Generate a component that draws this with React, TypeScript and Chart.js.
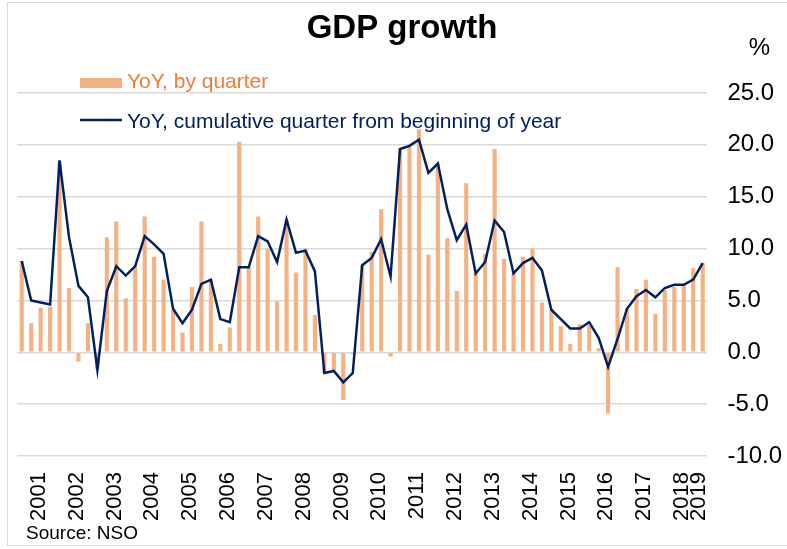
import React, { useEffect, useRef } from "react";
import { Chart, registerables } from "chart.js";

Chart.register(...registerables);

const years = ["2001","2002","2003","2004","2005","2006","2007","2008","2009","2010","2011","2012","2013","2014","2015","2016","2017","2018","2019"];
const quarterNames = ["Q1", "Q2", "Q3", "Q4"];
const quarterLabels = years.flatMap((y) => quarterNames.map((q) => `${y} ${q}`)).slice(0, 73);

const yoyByQuarter = [
  8.8, 2.8, 4.3, 4.4, 18.4, 6.2, -0.9, 2.8, -1.6, 11.1,
  12.6, 5.2, 8.3, 13.1, 9.2, 7.0, 4.1, 1.9, 6.3, 12.6,
  7.0, 0.8, 2.4, 20.3, 8.2, 13.1, 10.0, 4.9, 12.8, 7.7,
  10.0, 3.6, -2.0, -1.7, -4.6, -0.2, 8.4, 9.7, 13.8, -0.4,
  19.6, 19.8, 21.5, 9.4, 18.2, 11.0, 5.9, 16.3, 7.6, 9.5,
  19.6, 9.0, 7.6, 9.2, 10.0, 4.8, 4.1, 2.5, 0.8, 2.7,
  2.6, 0.4, -5.9, 8.2, 4.2, 6.1, 7.0, 3.7, 6.0, 6.3,
  6.5, 8.1, 8.6,
];

const yoyCumulative = [
  8.8, 5.0, 4.8, 4.6, 18.5, 11.1, 6.4, 5.3, -1.7, 5.9,
  8.3, 7.4, 8.3, 11.2, 10.4, 9.5, 4.2, 2.8, 4.1, 6.6,
  7.0, 3.2, 2.9, 8.2, 8.2, 11.2, 10.7, 8.7, 12.8, 9.6,
  9.8, 7.8, -2.0, -1.8, -2.9, -2.0, 8.4, 9.1, 10.9, 7.3,
  19.6, 19.9, 20.5, 17.3, 18.2, 13.8, 10.8, 12.3, 7.6, 8.7,
  12.7, 11.6, 7.6, 8.6, 9.1, 7.9, 4.1, 3.2, 2.3, 2.3,
  2.9, 1.4, -1.4, 1.3, 4.2, 5.4, 6.0, 5.3, 6.2, 6.5,
  6.5, 7.0, 8.6,
];

const yTicks = [-10, -5, 0, 5, 10, 15, 20, 25];

const TITLE = "GDP growth";
const SERIES_BAR = "YoY, by quarter";
const SERIES_LINE = "YoY, cumulative quarter from beginning of year";
const UNIT = "%";
const SOURCE = "Source: NSO";

const BAR_COLOR = "#F4B183";
const BAR_TEXT = "#ED7D31";
const LINE_COLOR = "#002060";
const FONT = "'Liberation Sans', Arial, sans-serif";

export default function App() {
  const ref = useRef<HTMLCanvasElement | null>(null);

  useEffect(() => {
    if (!ref.current) return;

    const decor = {
      id: "decor",
      afterDraw(chart: any) {
        const ctx = chart.ctx;
        const area = chart.chartArea;
        const xs = chart.scales.x;
        ctx.save();
        // title
        ctx.fillStyle = "#000";
        ctx.font = `bold 33px ${FONT}`;
        ctx.textAlign = "center";
        ctx.textBaseline = "alphabetic";
        ctx.fillText(TITLE, 402, 38);
        // unit
        ctx.font = `24px ${FONT}`;
        ctx.fillText(UNIT, area.right + 52, 55);
        // legend
        ctx.textAlign = "left";
        ctx.font = `21px ${FONT}`;
        ctx.fillStyle = BAR_COLOR;
        ctx.fillRect(80, 78, 42, 10);
        ctx.fillStyle = BAR_TEXT;
        ctx.fillText(SERIES_BAR, 127, 88);
        ctx.strokeStyle = LINE_COLOR;
        ctx.lineWidth = 2.5;
        ctx.beginPath();
        ctx.moveTo(80, 120);
        ctx.lineTo(122, 120);
        ctx.stroke();
        ctx.fillStyle = LINE_COLOR;
        ctx.fillText(SERIES_LINE, 127, 128);
        // year labels (centred under each year's quarters)
        ctx.fillStyle = "#000";
        ctx.font = `22px ${FONT}`;
        ctx.textAlign = "right";
        ctx.textBaseline = "middle";
        years.forEach((y) => {
          const idx = quarterLabels
            .map((l, i) => (l.startsWith(y) ? i : -1))
            .filter((i) => i >= 0);
          if (!idx.length) return;
          const c = (xs.getPixelForValue(idx[0]) + xs.getPixelForValue(idx[idx.length - 1])) / 2;
          const px = Math.min(c + 3, area.right - 8);
          ctx.save();
          ctx.translate(px, area.bottom + 16);
          ctx.rotate(-Math.PI / 2);
          ctx.fillText(y, 0, 0);
          ctx.restore();
        });
        // source
        ctx.textAlign = "left";
        ctx.textBaseline = "alphabetic";
        ctx.font = `19px ${FONT}`;
        ctx.fillText(SOURCE, 26, 539);
        ctx.restore();
      },
    };

    const chart = new Chart(ref.current, {
      type: "bar",
      data: {
        labels: quarterLabels,
        datasets: [
          {
            type: "line",
            label: SERIES_LINE,
            data: yoyCumulative,
            borderColor: LINE_COLOR,
            borderWidth: 2.5,
            pointRadius: 0,
            tension: 0,
            order: 0,
          } as any,
          {
            type: "bar",
            label: SERIES_BAR,
            data: yoyByQuarter,
            backgroundColor: BAR_COLOR,
            borderWidth: 0,
            categoryPercentage: 1,
            barPercentage: 0.44,
            order: 1,
          },
        ],
      },
      options: {
        animation: false,
        responsive: false,
        maintainAspectRatio: false,
        layout: { padding: { left: 17, top: 93, right: 0, bottom: 93 } },
        plugins: {
          legend: { display: false },
          title: { display: false },
          tooltip: { enabled: false },
        },
        scales: {
          x: {
            type: "category",
            display: false,
            offset: true,
            grid: { display: false },
          },
          y: {
            type: "linear",
            position: "right",
            min: -10,
            max: 25,
            afterBuildTicks: (scale: any) => {
              scale.ticks = yTicks.map((v) => ({ value: v }));
            },
            afterFit: (scale: any) => {
              scale.width = 787 - 707.4;
            },
            grid: { color: "#D9D9D9", lineWidth: 1.5, drawTicks: false },
            border: { display: false },
            ticks: {
              padding: 20,
              color: "#000",
              font: { family: FONT, size: 24 },
              callback: (v: any) => Number(v).toFixed(1),
            },
          },
        },
      },
      plugins: [decor],
    });
    return () => chart.destroy();
  }, []);

  return (
    <div style={{ position: "fixed", left: 0, top: 0, width: 787, height: 549, background: "#fff" }}>
      <div
        style={{
          position: "absolute",
          left: 7,
          top: 2,
          width: 800,
          height: 544,
          border: "1px solid #D9D9D9",
          boxSizing: "border-box",
        }}
      />
      <canvas ref={ref} width={787} height={549} style={{ position: "absolute", left: 0, top: 0, width: 787, height: 549 }} />
    </div>
  );
}
